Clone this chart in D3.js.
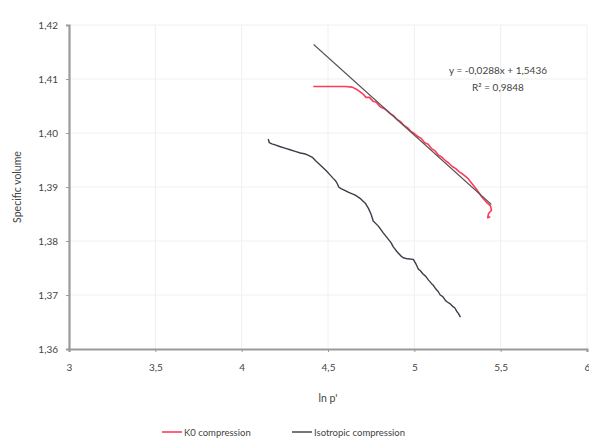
<!DOCTYPE html>
<html><head><meta charset="utf-8">
<script src="https://cdn.jsdelivr.net/npm/d3@7"></script>
<style>
html,body{margin:0;padding:0;background:#fff;}
svg{display:block;font-family:Lato,"Open Sans",sans-serif;}
</style></head>
<body>
<svg id="chart" width="589" height="443"></svg>
<script>
const xTicks = [3, 3.5, 4, 4.5, 5, 5.5, 6];
const yTicks = [1.36, 1.37, 1.38, 1.39, 1.40, 1.41, 1.42];

const isoX = [4.154,4.160,4.175,4.194,4.22,4.25,4.28,4.31,4.34,4.37,4.39,4.409,4.43,4.45,4.467,4.49,4.513,4.53,4.545,4.554,4.562,4.575,4.588,4.62,4.658,4.69,4.716,4.735,4.75,4.762,4.79,4.80,4.82,4.85,4.865,4.878,4.90,4.92,4.936,4.96,4.994,5.01,5.023,5.035,5.05,5.065,5.081,5.10,5.11,5.125,5.139,5.15,5.165,5.18,5.191,5.21,5.226,5.235,5.245,5.255,5.267];
const isoY = [1.3989,1.3982,1.3980,1.3978,1.3975,1.3972,1.3969,1.3966,1.3963,1.3961,1.3958,1.3955,1.3948,1.3942,1.3937,1.3930,1.3922,1.3916,1.3911,1.3906,1.3900,1.3897,1.3895,1.3890,1.3885,1.3878,1.3870,1.3860,1.3849,1.3837,1.3828,1.3824,1.3815,1.3803,1.3797,1.3789,1.3780,1.3773,1.3769,1.3767,1.3766,1.3757,1.3748,1.3745,1.3739,1.3735,1.3728,1.3721,1.3718,1.3711,1.3706,1.3700,1.3697,1.3690,1.3687,1.3683,1.3678,1.3676,1.3670,1.3666,1.3659];

const k0X = [4.415,4.50,4.60,4.64,4.67,4.70,4.72,4.74,4.76,4.78,4.80,4.82,4.84,4.86,4.88,4.90,4.92,4.94,4.96,4.98,5.00,5.023,5.04,5.06,5.08,5.10,5.12,5.14,5.16,5.18,5.20,5.22,5.24,5.26,5.28,5.307,5.33,5.36,5.39,5.42,5.441,5.447,5.43,5.425,5.44];
const k0Y = [1.4086,1.4086,1.4086,1.4085,1.4080,1.4073,1.4066,1.4066,1.4059,1.4057,1.4049,1.4046,1.4042,1.4036,1.4032,1.4025,1.4021,1.4014,1.4010,1.4003,1.3999,1.3993,1.3990,1.3982,1.3979,1.3971,1.3967,1.3959,1.3955,1.3949,1.3944,1.3938,1.3934,1.3928,1.3924,1.3917,1.3908,1.3896,1.3882,1.3871,1.3865,1.3857,1.3851,1.3843,1.3845];

const trendSlope = -0.0288;
const trendIntercept = 1.5436;
const trendR2 = "0,9848";
const trendRange = [4.417, 5.446];

const seriesNames = ["K0 compression", "Isotropic compression"];
const seriesColors = ["#ff3a5c", "#3a3f48"];

const fmt = v => String(+v.toFixed(2)).replace(".", ",");
const fmtY = v => v.toFixed(2).replace(".", ",");

const svg = d3.select("#chart");
const L = 69, R = 587, T = 25, B = 349;
const x = d3.scaleLinear().domain([3, 6]).range([L, R]);
const y = d3.scaleLinear().domain([1.36, 1.42]).range([B, T]);

// gridlines
svg.append("g").selectAll("line").data(yTicks.slice(1)).join("line")
  .attr("x1", L).attr("x2", R).attr("y1", d => y(d)).attr("y2", d => y(d))
  .attr("stroke", "#f0f0f0").attr("stroke-width", 1);
svg.append("g").selectAll("line").data(xTicks.slice(1)).join("line")
  .attr("y1", T).attr("y2", B).attr("x1", d => x(d)).attr("x2", d => x(d))
  .attr("stroke", "#f0f0f0").attr("stroke-width", 1);

// axes
const xAxis = svg.append("g").attr("transform", `translate(0,${B})`)
  .call(d3.axisBottom(x).tickValues(xTicks).tickFormat(fmt).tickSize(3).tickPadding(12));
const yAxis = svg.append("g").attr("transform", `translate(${L},0)`)
  .call(d3.axisLeft(y).tickValues(yTicks).tickFormat(fmtY).tickSize(3).tickPadding(8));
[xAxis, yAxis].forEach(a => {
  a.select(".domain").attr("stroke", "#9a9a9a").attr("stroke-width", 2.2);
  a.selectAll(".tick line").attr("stroke", "#9a9a9a");
  a.selectAll(".tick text").attr("fill", "#444").attr("font-size", 10)
    .attr("font-family", "Lato, 'Open Sans', sans-serif");
});

// axis titles
svg.append("text").attr("x", (L + R) / 2).attr("y", 402).attr("text-anchor", "middle")
  .attr("font-size", 10.5).attr("fill", "#444").text("ln p'");
svg.append("text").attr("transform", `translate(21,${(T + B) / 2}) rotate(-90)`)
  .attr("text-anchor", "middle").attr("font-size", 10.5).attr("fill", "#444").text("Specific volume");

const line = d3.line().x(d => x(d[0])).y(d => y(d[1]));

// isotropic series
svg.append("path").datum(isoX.map((v, i) => [v, isoY[i]]))
  .attr("d", line).attr("fill", "none").attr("stroke", seriesColors[1])
  .attr("stroke-width", 1.4).attr("stroke-linejoin", "round");

// K0 series
svg.append("path").datum(k0X.map((v, i) => [v, k0Y[i]]))
  .attr("d", line).attr("fill", "none").attr("stroke", seriesColors[0])
  .attr("stroke-width", 1.6).attr("stroke-linejoin", "round");

// trendline
svg.append("path").datum(trendRange.map(v => [v, trendIntercept + trendSlope * v]))
  .attr("d", line).attr("fill", "none").attr("stroke", "#555")
  .attr("stroke-width", 1.1);

// equation labels
const eq = svg.append("g").attr("font-size", 10).attr("fill", "#444").attr("text-anchor", "middle");
eq.append("text").attr("x", 498).attr("y", 74)
  .text(`y = ${String(trendSlope).replace(".", ",")}x + ${String(trendIntercept).replace(".", ",")}`);
eq.append("text").attr("x", 498).attr("y", 91).text(`R² = ${trendR2}`);

// legend
const legendX = [162, 292];
const lg = svg.append("g");
seriesNames.forEach((n, i) => {
  lg.append("line").attr("x1", legendX[i]).attr("x2", legendX[i] + 20)
    .attr("y1", 432).attr("y2", 432).attr("stroke", i === 0 ? seriesColors[0] : "#555").attr("stroke-width", 1.6);
  lg.append("text").attr("x", legendX[i] + 22).attr("y", 435.5).attr("font-size", 9.5)
    .attr("fill", "#444").text(n);
});
</script>
</body></html>
